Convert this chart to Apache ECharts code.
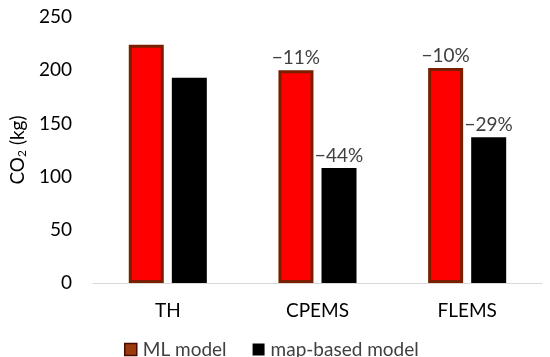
<!DOCTYPE html>
<html>
<head>
<meta charset="utf-8">
<script src="https://cdn.jsdelivr.net/npm/echarts@6/dist/echarts.min.js"></script>
<style>
html,body{margin:0;padding:0;background:#fff;}
#chart{width:550px;height:357px;}
</style>
</head>
<body>
<div id="chart"></div>
<script>
var categories = ['TH', 'CPEMS', 'FLEMS'];
var mlValues = [224, 200, 202];
var mapValues = [193, 108, 137];
var mlLabels = ['', '\u221211%', '\u221210%'];
var mapLabels = ['', '\u221244%', '\u221229%'];
var yTicks = [0, 50, 100, 150, 200, 250];

function drawChart(){
    var myChart = echarts.init(document.getElementById('chart'));
    var font = 'Lato, "Open Sans", sans-serif';
    var labelStyle = {
        show: true,
        position: 'top',
        distance: 3,
        fontFamily: font,
        fontSize: 19,
        color: '#404040'
    };
    var option = {
        animation: false,
        textStyle: {fontFamily: font},
        grid: {left: 83, right: 8, top: 17, bottom: 74},
        legend: {
            left: 119,
            top: 335,
            itemWidth: 12,
            itemHeight: 12,
            itemGap: 26,
            textStyle: {fontFamily: font, fontSize: 19, color: '#404040', padding: [0, 0, 0, 1]},
            data: [
                {name: 'ML model', icon: 'rect', itemStyle: {color: '#9c3a0c', borderColor: '#4a0a00', borderWidth: 1.5}},
                {name: 'map-based model', icon: 'rect', itemStyle: {color: '#000'}}
            ]
        },
        xAxis: {
            type: 'category',
            data: categories,
            axisLine: {lineStyle: {color: '#d9d9d9'}},
            axisTick: {show: false},
            axisLabel: {fontFamily: font, fontSize: 19, color: '#000', margin: 18}
        },
        yAxis: {
            type: 'value',
            min: yTicks[0],
            max: yTicks[yTicks.length - 1],
            interval: 50,
            name: '{a|CO}{s|2}{a| (kg)}',
            nameLocation: 'middle',
            nameRotate: 90,
            nameGap: 61,
            nameTextStyle: {
                rich: {
                    a: {fontFamily: font, fontSize: 19, color: '#000'},
                    s: {fontFamily: font, fontSize: 12, color: '#000', padding: [9, 0, 0, 0]}
                }
            },
            splitLine: {show: false},
            axisLine: {show: false},
            axisTick: {show: false},
            axisLabel: {fontFamily: font, fontSize: 19, color: '#000', margin: 21}
        },
        series: [{
            type: 'bar',
            name: 'ML model',
            data: mlValues,
            barWidth: 35,
            barGap: '23%',
            itemStyle: {color: '#ff0000', borderColor: '#7a1e00', borderWidth: 3},
            label: Object.assign({}, labelStyle, {
                formatter: function(p){ return mlLabels[p.dataIndex]; }
            })
        }, {
            type: 'bar',
            name: 'map-based model',
            data: mapValues,
            barWidth: 35,
            itemStyle: {color: '#000'},
            label: Object.assign({}, labelStyle, {
                formatter: function(p){ return mapLabels[p.dataIndex]; }
            })
        }]
    };
    myChart.setOption(option);
}
drawChart();
</script>
</body>
</html>
